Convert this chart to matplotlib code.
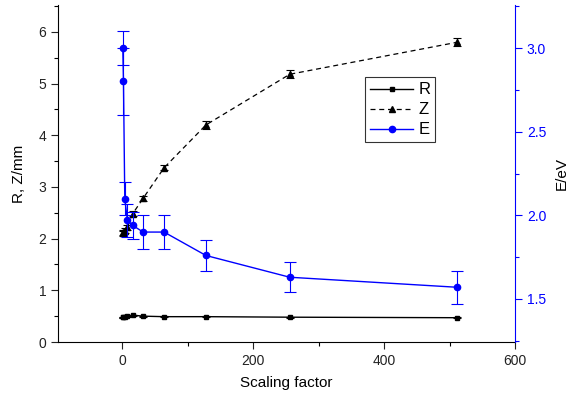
import matplotlib
matplotlib.use("Agg")
import matplotlib.pyplot as plt
from matplotlib.ticker import MultipleLocator, FixedLocator
from matplotlib.lines import Line2D

plt.rcParams['font.family'] = ['Liberation Sans', 'DejaVu Sans']

scale = [1, 2, 4, 8, 16, 32, 64, 128, 256, 512]
R = [0.48, 0.48, 0.49, 0.50, 0.52, 0.50, 0.49, 0.49, 0.48, 0.47]
R_err = [0.01, 0.01, 0.01, 0.01, 0.01, 0.01, 0.01, 0.01, 0.01, 0.01]
Z = [2.10, 2.12, 2.15, 2.22, 2.48, 2.78, 3.37, 4.20, 5.18, 5.80]
Z_err = [0.05, 0.05, 0.05, 0.05, 0.05, 0.05, 0.05, 0.08, 0.08, 0.08]
E = [3.00, 2.80, 2.10, 1.97, 1.94, 1.90, 1.90, 1.76, 1.63, 1.57]
E_err = [0.10, 0.20, 0.10, 0.10, 0.08, 0.10, 0.10, 0.09, 0.09, 0.10]

fig = plt.figure(figsize=(5.85, 3.96), dpi=100)
ax = fig.add_axes([58/585, 1-342/396, (515-58)/585, (342-5)/396])
ax2 = ax.twinx()

ax.errorbar(scale, R, yerr=R_err, color='black', marker='s', ms=3.5, lw=1.0,
            capsize=3, elinewidth=0.8, capthick=0.8)
ax.errorbar(scale, Z, yerr=Z_err, color='black', marker='^', ms=4.5, lw=0.9,
            ls=(0, (4, 3)), capsize=3, elinewidth=0.8, capthick=0.8)
ax2.errorbar(scale, E, yerr=E_err, color='blue', marker='o', ms=4.5, lw=1.0,
             capsize=4, elinewidth=0.8, capthick=0.8)

ax.set_xlim(-98, 600)
ax.set_ylim(0, 6.52)
ax2.set_ylim(1.243, 3.257)

ax.xaxis.set_major_locator(FixedLocator([0, 200, 400, 600]))
ax.xaxis.set_minor_locator(FixedLocator([100, 300, 500]))
ax.yaxis.set_major_locator(MultipleLocator(1))
ax.yaxis.set_minor_locator(MultipleLocator(0.5))
ax2.yaxis.set_major_locator(FixedLocator([1.5, 2.0, 2.5, 3.0]))
ax2.yaxis.set_minor_locator(MultipleLocator(0.25))
ax2.set_yticklabels(['1.5', '2.0', '2.5', '3.0'])

for a in (ax, ax2):
    a.spines['top'].set_visible(False)
ax2.spines['left'].set_visible(False)
ax2.spines['bottom'].set_visible(False)
ax.spines['right'].set_visible(False)
ax2.spines['right'].set_color('blue')

ax.tick_params(which='major', direction='out', length=5, width=0.8, labelsize=10, colors='#222222')
ax.tick_params(which='minor', direction='out', length=3, width=0.8)
ax2.tick_params(which='major', direction='out', length=5, width=0.8, labelsize=10,
                colors='blue', labelcolor='blue')
ax2.tick_params(which='minor', direction='out', length=3, width=0.8, colors='blue')

ax.set_xlabel('Scaling factor', fontsize=11, labelpad=6)
ax.set_ylabel('R, Z/mm', fontsize=11, labelpad=9)
ax2.set_ylabel('E/eV', fontsize=11, labelpad=6)

handles = [
    Line2D([], [], color='black', marker='s', ms=3.5, lw=1.0),
    Line2D([], [], color='black', marker='^', ms=4.5, lw=0.9, ls=(0, (4, 3))),
    Line2D([], [], color='blue', marker='o', ms=4.5, lw=1.0),
]
leg = ax2.legend(handles, ['R', 'Z', 'E'], loc='upper left',
                 bbox_to_anchor=(0.672, 0.785), fontsize=12, frameon=True,
                 fancybox=False, edgecolor='black', handlelength=2.6,
                 handletextpad=0.3, borderpad=0.3, labelspacing=0.3,
                 borderaxespad=0)
leg.get_frame().set_linewidth(0.8)

fig.savefig('out.png', dpi=100)
